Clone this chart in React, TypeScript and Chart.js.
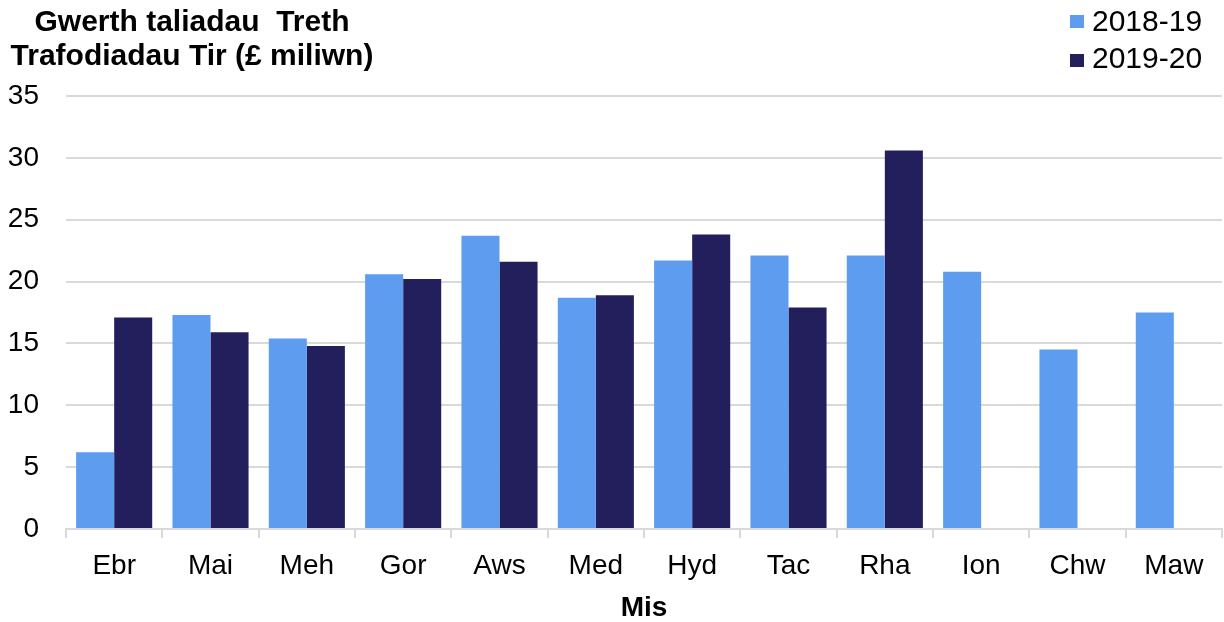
import React, { useEffect, useRef } from "react";
import { Chart, registerables } from "chart.js";

Chart.register(...registerables);

const categories = ["Ebr", "Mai", "Meh", "Gor", "Aws", "Med", "Hyd", "Tac", "Rha", "Ion", "Chw", "Maw"];
const series2018 = [6.2, 17.3, 15.4, 20.6, 23.7, 18.7, 21.7, 22.1, 22.1, 20.8, 14.5, 17.5];
const series2019 = [17.1, 15.9, 14.8, 20.2, 21.6, 18.9, 23.8, 17.9, 30.6, null, null, null];
const seriesLabels = ["2018-19", "2019-20"];
const colors = ["#5E9CF0", "#231F5C"];
const titleLines = ["Gwerth taliadau  Treth", "Trafodiadau Tir (£ miliwn)"];
const xTitle = "Mis";

const FONT = "'Liberation Sans', Arial, sans-serif";

export default function App() {
  const ref = useRef<HTMLCanvasElement | null>(null);

  useEffect(() => {
    const canvas = ref.current;
    if (!canvas) return;
    const chart = new Chart(canvas, {
      type: "bar",
      data: {
        labels: categories,
        datasets: [
          { label: seriesLabels[0], data: series2018, backgroundColor: colors[0], borderWidth: 0 },
          { label: seriesLabels[1], data: series2019 as any, backgroundColor: colors[1], borderWidth: 0 },
        ],
      },
      options: {
        animation: false,
        responsive: true,
        maintainAspectRatio: false,
        layout: { padding: { top: 96, right: 2, left: 0, bottom: 0 } },
        datasets: { bar: { categoryPercentage: 0.79, barPercentage: 1 } },
        plugins: {
          legend: { display: false },
          title: { display: false },
          tooltip: { enabled: false },
        },
        scales: {
          x: {
            grid: {
              drawOnChartArea: false,
              drawTicks: true,
              tickLength: 9,
              color: "#D9D9D9",
              lineWidth: 2,
              offset: true,
            },
            border: { display: true, color: "#D9D9D9", width: 2 },
            ticks: {
              color: "#000",
              font: { family: FONT, size: 28 },
              padding: 11,
              maxRotation: 0,
            },
            title: {
              display: true,
              text: xTitle,
              color: "#000",
              font: { family: FONT, size: 28, weight: "bold", lineHeight: 1 },
              padding: { top: 0, bottom: 0 },
            },
            afterFit: (scale: any) => {
              scale.height = 93;
            },
          },
          y: {
            min: 0,
            max: 35,
            ticks: {
              stepSize: 5,
              color: "#000",
              font: { family: FONT, size: 28 },
              padding: 27,
            },
            grid: { color: "#D9D9D9", lineWidth: 2, drawTicks: false },
            border: { display: false },
            afterFit: (scale: any) => {
              scale.width = 66;
            },
          },
        },
      },
    });
    return () => chart.destroy();
  }, []);

  return (
    <div style={{ position: "absolute", left: 0, top: 0, width: 1224, height: 622, background: "#fff", fontFamily: FONT }}>
      <canvas ref={ref} style={{ position: "absolute", left: 0, top: 0, width: 1224, height: 622 }} />
      <div
        style={{
          position: "absolute",
          left: 0,
          top: 3.5,
          width: 384,
          textAlign: "center",
          fontSize: 30,
          fontWeight: "bold",
          lineHeight: "34px",
          whiteSpace: "pre",
          color: "#000",
        }}
      >
        {titleLines.map((t, i) => (
          <div key={i}>{t}</div>
        ))}
      </div>
      {seriesLabels.map((s, i) => (
        <React.Fragment key={s}>
          <div
            style={{
              position: "absolute",
              left: 1070,
              top: 14.5 + i * 39,
              width: 13.5,
              height: 13.5,
              background: colors[i],
            }}
          />
          <div
            style={{
              position: "absolute",
              left: 1092,
              top: 2 + i * 37,
              fontSize: 30,
              lineHeight: "37px",
              color: "#000",
              whiteSpace: "pre",
            }}
          >
            {s}
          </div>
        </React.Fragment>
      ))}
    </div>
  );
}
